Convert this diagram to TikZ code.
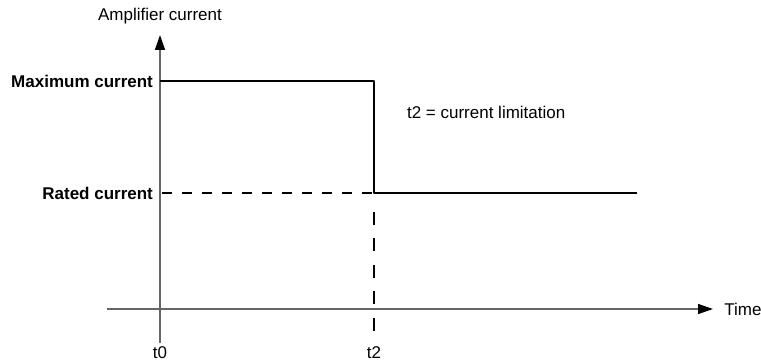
\documentclass[tikz,border=0pt]{standalone}
\usepackage{fontspec}
\setmainfont{Liberation Sans}
\usetikzlibrary{arrows.meta}
\begin{document}
\begin{tikzpicture}[x=0.5pt, y=-0.5pt, font=\fontsize{8.5}{10}\selectfont, line join=round, >={Triangle[length=7.5pt, width=5pt, color=black]}]
	\useasboundingbox (0,0) rectangle (761,363);
	% axes
	\coordinate (O) at (160,309);
	\coordinate (ytop) at (160,35);
	\coordinate (ybot) at (160,343);
	\coordinate (xleft) at (107,309);
	\coordinate (xright) at (713,309);
	\draw[black!60, line width=0.7pt] (ybot)--(O);
	\draw[->, black!60, line width=0.7pt] (O)--(ytop) node[black, above=2pt] (ylab) {Amplifier current};
	\draw[->, black!60, line width=0.7pt] (xleft)--(xright) node[black, right=2pt] (xlab) {Time};
	% current levels
	\coordinate (imax) at (160,81);
	\coordinate (irated) at (160,193);
	\coordinate (tmax) at (374,81);
	\coordinate (trated) at (374,193);
	\coordinate (tend) at (637,193);
	\coordinate (dstart) at (162,193);
	\coordinate (vstart) at (374,212);
	\coordinate (tbot) at (374,332);
	\draw[line width=1pt] (imax)--(tmax)--(trated)--(tend);
	\draw[line width=0.8pt, dash pattern=on 5pt off 5pt] (dstart)--(trated);
	\draw[line width=0.8pt, dash pattern=on 6.5pt off 6.75pt] (vstart)--(tbot);
	\node[left, font=\fontsize{8.5}{10}\selectfont\bfseries] (maxlab) at (imax) {Maximum current};
	\node[left, font=\fontsize{8.5}{10}\selectfont\bfseries] (ratedlab) at (irated) {Rated current};
	\node[right] (note) at (400,112) {t2 = current limitation};
	\node (t0) at (160,353) {t0};
	\node (t2) at (374,353) {t2};
\end{tikzpicture}
\end{document}
